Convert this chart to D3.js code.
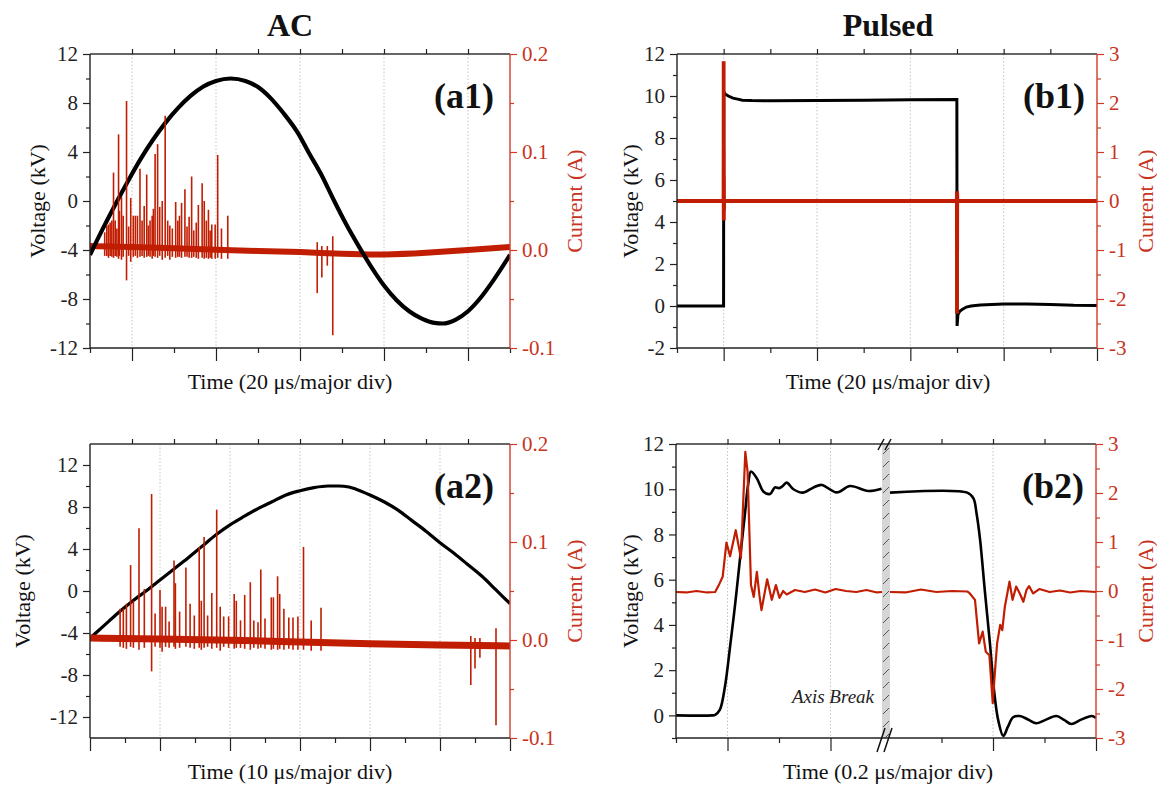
<!DOCTYPE html>
<html><head><meta charset="utf-8">
<script src="https://cdn.jsdelivr.net/npm/d3@7"></script>
<style>
body{margin:0;background:#fff;}
</style></head><body>
<script>
// ---------------- DATA ----------------
// (a1) AC, 20 us/major div
const a1VoltT = [0,3,6,9,12,15,18,21,24,27,30,33.5,37,40,43,46,49.6,52,55,58,61,64,67,70,73,76,79,82,84,87,90,93,96,100];
const a1VoltV = [-4.4,-2.3,-0.3,1.6,3.4,5.0,6.4,7.6,8.6,9.35,9.8,10.0,9.8,9.3,8.4,7.2,5.5,4.0,2.2,0.1,-1.9,-3.7,-5.4,-6.9,-8.1,-9.0,-9.6,-9.95,-10.0,-9.7,-9.0,-7.9,-6.5,-4.4];
const a1BaseT = [0,10,20,30,40,50,60,70,80,90,100];
const a1BaseI = [0.004,0.003,0.002,0.0,-0.001,-0.002,-0.004,-0.005,-0.003,0.0,0.003];
const a1SpikeT = [3.5,4.0,4.4,4.8,5.2,5.6,6.0,6.4,6.8,7.0,7.5,7.9,8.7,9.2,9.7,10.3,10.8,11.3,11.9,12.4,12.9,13.5,13.9,14.3,14.8,15.1,15.5,16.1,16.6,17.2,17.9,18.5,19.0,19.6,20.4,20.9,21.3,21.8,22.6,23.1,23.6,24.2,24.7,25.3,25.8,26.7,27.2,27.7,28.2,28.6,29.0,29.8,30.4,31.3,32.8,54.1,55.2,56.5,57.8];
const a1SpikeHi = [0.018,0.025,0.026,0.028,0.030,0.079,0.030,0.022,0.118,0.040,
  0.054,0.035,0.152,0.024,0.053,0.035,0.035,0.035,0.083,0.030,
  0.045,0.077,0.025,0.030,0.035,0.042,0.098,0.108,0.044,0.050,
  0.137,0.030,0.025,0.022,0.049,0.030,0.035,0.048,0.062,0.024,
  0.034,0.075,0.020,0.028,0.046,0.068,0.050,0.030,0.041,0.020,
  0.026,0.026,0.097,0.022,0.035,0.008,0.004,0.004,0.014];
const a1SpikeLo = [-0.006,-0.006,-0.008,-0.006,-0.007,-0.008,-0.006,-0.007,-0.009,-0.006,
  -0.010,-0.007,-0.031,-0.006,-0.012,-0.007,-0.006,-0.008,-0.007,-0.006,
  -0.008,-0.007,-0.006,-0.007,-0.009,-0.006,-0.007,-0.008,-0.006,-0.010,
  -0.008,-0.006,-0.010,-0.007,-0.008,-0.007,-0.007,-0.008,-0.007,-0.007,
  -0.008,-0.008,-0.007,-0.008,-0.009,-0.008,-0.009,-0.008,-0.009,-0.008,
  -0.009,-0.009,-0.008,-0.009,-0.009,-0.044,-0.028,-0.016,-0.087];

// (a2) AC, 10 us/major div
const a2VoltT = [0,2,4,6,8,10,12,14,16,18,20,22,24,26,28,30,32,34,35.5,37,38,40,42,44,46,48,50,52,54,56,58,60];
const a2VoltV = [-4.5,-3.3,-2.1,-1.0,0.0,1.05,2.1,3.15,4.25,5.35,6.3,7.1,7.85,8.5,9.15,9.55,9.85,10.0,10.0,9.9,9.7,9.15,8.5,7.7,6.7,5.7,4.6,3.6,2.5,1.4,0.1,-1.2];
const a2BaseT = [0,10,20,30,40,50,60];
const a2BaseI = [0.002,0.001,0.0,-0.002,-0.004,-0.005,-0.006];
const a2SpikeT = [4.3,4.76,5.2,5.8,6.2,7.0,7.76,8.8,9.3,10.0,10.3,10.8,11.3,12.0,12.2,12.8,13.7,14.3,14.9,15.6,15.9,16.3,16.8,17.4,18.1,18.6,19.1,19.8,20.6,20.9,21.5,22.1,22.9,23.4,24.0,24.4,25.0,25.9,26.2,26.8,27.1,27.7,28.4,29.0,29.7,30.5,31.6,33.0,54.4,55.0,55.7,58.0];
const a2SpikeHi = [0.032,0.032,0.037,0.0765,0.040,0.114,0.052,0.149,0.027,0.051,
  0.034,0.034,0.019,0.081,0.058,0.029,0.074,0.037,0.025,0.095,
  0.040,0.105,0.025,0.048,0.133,0.034,0.024,0.024,0.047,0.040,
  0.020,0.046,0.059,0.020,0.018,0.072,0.022,0.0435,0.0435,0.065,
  0.047,0.032,0.023,0.023,0.024,0.095,0.020,0.033,0.004,0.002,
  0.002,0.012];
const a2SpikeLo = [-0.007,-0.008,-0.009,-0.007,-0.008,-0.010,-0.008,-0.032,-0.007,-0.008,
  -0.012,-0.007,-0.008,-0.007,-0.009,-0.008,-0.007,-0.008,-0.009,-0.008,
  -0.010,-0.008,-0.007,-0.009,-0.008,-0.011,-0.007,-0.008,-0.009,-0.008,
  -0.008,-0.009,-0.010,-0.008,-0.009,-0.008,-0.009,-0.010,-0.009,-0.010,
  -0.009,-0.010,-0.009,-0.010,-0.010,-0.010,-0.011,-0.011,-0.046,-0.029,
  -0.018,-0.087];

// (b1) Pulsed, 20 us/major div
const b1VoltT = [0,9.98,10.02,10.3,11,12,13,14,16,20,30,40,50,59.97,60.02,60.2,60.6,61.2,62,63,65,70,75,80,85,90];
const b1VoltV = [0,0,10.2,10.1,10.0,9.9,9.85,9.8,9.78,9.77,9.78,9.8,9.82,9.83,-0.95,-0.4,-0.25,-0.15,-0.05,0.0,0.05,0.1,0.1,0.07,0.03,0.02];
const b1CurT = [0,9.97,9.99,10.0,10.01,10.02,10.03,10.05,10.07,10.1,59.96,59.98,60.0,60.01,60.03,60.05,60.08,90];
const b1CurI = [0,0,0.9,2.85,-0.35,1.05,-0.4,0.5,-0.2,0,0,0.2,-2.3,0.2,-1.0,0.15,0,0];

// (b2) Pulsed, 0.2 us/major div, with axis break
const b2VoltLT = [0,0.07,0.076,0.085,0.095,0.105,0.115,0.124,0.134,0.140,0.1456,0.157,0.170,0.1825,0.192,0.200,0.206,0.215,0.228,0.247,0.267,0.283,0.312,0.338,0.373,0.399];
const b2VoltLV = [0,0,0.02,0.24,1.27,3.04,4.95,6.87,8.94,10.2,10.78,10.48,9.89,9.79,10.08,10.05,10.12,10.29,10.0,9.85,10.08,10.19,9.86,10.14,9.92,10.02];
const b2CurLT = [0,0.02,0.04,0.06,0.076,0.084,0.0906,0.098,0.105,0.116,0.126,0.1346,0.139,0.1456,0.151,0.157,0.162,0.166,0.177,0.186,0.194,0.201,0.208,0.215,0.231,0.25,0.27,0.29,0.31,0.33,0.35,0.37,0.39,0.4];
const b2CurLI = [-0.02,-0.03,0.0,-0.03,-0.02,0.14,0.29,0.99,0.71,1.24,0.67,2.84,2.43,0.12,-0.12,0.39,-0.09,-0.39,0.24,-0.18,0.12,-0.14,0.0,-0.07,0.02,-0.02,0.03,-0.03,0.04,0.0,-0.02,0.02,-0.03,-0.02];
const b2VoltRT = [10.0,10.15,10.162,10.168,10.175,10.184,10.194,10.202,10.21,10.22,10.229,10.239,10.252,10.268,10.284,10.30,10.323,10.338,10.352,10.37,10.392,10.4];
const b2VoltRV = [9.85,9.85,9.6,8.94,7.75,5.54,3.19,1.12,-0.2,-0.91,-0.5,-0.08,-0.03,-0.18,-0.35,-0.22,-0.03,-0.2,-0.38,-0.2,-0.03,-0.12];
const b2CurRT = [10.0,10.03,10.06,10.09,10.12,10.15,10.155,10.165,10.173,10.18,10.186,10.193,10.1995,10.204,10.208,10.214,10.218,10.223,10.232,10.238,10.245,10.252,10.259,10.265,10.27,10.278,10.29,10.31,10.33,10.35,10.37,10.4];
const b2CurRI = [-0.02,-0.03,0.03,-0.02,0.0,-0.01,-0.05,-0.18,-1.07,-0.83,-1.24,-1.31,-2.29,-1.61,-1.07,-0.69,-0.8,-0.32,0.19,-0.18,0.09,-0.05,-0.22,0.02,0.1,-0.05,0.04,-0.02,0.01,-0.03,0.0,-0.02];

// tick values / labels
const acVoltMajor = [-12,-8,-4,0,4,8,12];
const acVoltLabels = ["-12","-8","-4","0","4","8","12"];
const acVoltMinor = [-10,-6,-2,2,6,10];
const acCurMajor = [-0.1,0,0.1,0.2];
const acCurLabels = ["-0.1","0.0","0.1","0.2"];
const acCurMinor = [-0.05,0.05,0.15];
const b1VoltMajor = [-2,0,2,4,6,8,10,12];
const b1VoltLabels = ["-2","0","2","4","6","8","10","12"];
const b2VoltMajor = [0,2,4,6,8,10,12];
const b2VoltLabels = ["0","2","4","6","8","10","12"];
const pVoltMinor = [-1,1,3,5,7,9,11];
const pCurMajor = [-3,-2,-1,0,1,2,3];
const pCurLabels = ["-3","-2","-1","0","1","2","3"];
const pCurMinor = [-2.5,-1.5,-0.5,0.5,1.5,2.5];
const a1TimeMajor = [10,30,50,70,90], a1TimeMinor = [0,20,40,60,80,100], a1TimeTop = [10,20,30,40,50,60,70,80,90];
const a2TimeMajor = [0,10,20,30,40,50,60], a2TimeMinor = [5,15,25,35,45,55], a2TimeTop = [6,12,18,24,30,36,42,48,54];
const b1TimeMajor = [10,30,50,70,90], b1TimeMinor = [0,20,40,60,80], b1TimeTop = [10,20,30,40,50,60,70,80];
const b2LTimeMajor = [0.1,0.3], b2LTimeMinor = [0,0.2], b2LTimeTop = [0.1,0.2,0.3];
const b2RTimeMajor = [10.2,10.4], b2RTimeMinor = [10.1,10.3], b2RTimeTop = [10.1,10.2,10.3];

// ---------------- DRAWING ----------------
const FONT = "'Liberation Serif','Times New Roman',serif";
const AXIS_RED = "#cf3b28", TEXT_RED = "#c8331d", TRACE_RED = "#c01d02";
const svg = d3.select("body").append("svg").attr("width",1157).attr("height",788)
  .attr("font-family",FONT);

const defs = svg.append("defs");
const pat = defs.append("pattern").attr("id","hatch").attr("patternUnits","userSpaceOnUse")
  .attr("width",8).attr("height",13).attr("x",882).attr("y",444);
pat.append("rect").attr("width",8).attr("height",13).attr("fill","#d6d6d6");
pat.append("line").attr("x1",1).attr("y1",10).attr("x2",7).attr("y2",4).attr("stroke","#555").attr("stroke-width",1);

let clipN = 0;
function clip(x0,y0,x1,y1){
  const id = "clip"+(clipN++);
  defs.append("clipPath").attr("id",id).append("rect").attr("x",x0).attr("y",y0).attr("width",x1-x0).attr("height",y1-y0);
  return "url(#"+id+")";
}

function styleAxis(sel, color, size){
  sel.attr("font-family",FONT).attr("font-size",size).attr("color",color);
  sel.select(".domain").remove();
  sel.selectAll(".tick line").attr("stroke-width",1.2);
  sel.selectAll(".tick text").attr("fill",color);
}

function yAxes(box, yV, yI, vMaj, vLab, vMin, iMaj, iLab, iMin){
  const gl = svg.append("g").attr("transform",`translate(${box.x0},0)`);
  styleAxis(gl.append("g").call(d3.axisLeft(yV).tickValues(vMin).tickSize(4).tickFormat("")), "#222", 21);
  styleAxis(gl.append("g").call(d3.axisLeft(yV).tickValues(vMaj).tickSize(7).tickPadding(5).tickFormat((d,i)=>vLab[i])), "#222", 21);
  const gr = svg.append("g").attr("transform",`translate(${box.x1},0)`);
  styleAxis(gr.append("g").call(d3.axisRight(yI).tickValues(iMin).tickSize(4).tickFormat("")), AXIS_RED, 21);
  const ra = gr.append("g").call(d3.axisRight(yI).tickValues(iMaj).tickSize(7).tickPadding(5).tickFormat((d,i)=>iLab[i]));
  styleAxis(ra, AXIS_RED, 21);
  ra.selectAll(".tick text").attr("fill",TEXT_RED);
}

function xAxes(box, x, maj, min, top){
  const gb = svg.append("g").attr("transform",`translate(0,${box.y1})`);
  styleAxis(gb.append("g").call(d3.axisBottom(x).tickValues(min).tickSize(5).tickFormat("")), "#222", 12);
  styleAxis(gb.append("g").call(d3.axisBottom(x).tickValues(maj).tickSize(13).tickFormat("")), "#222", 12);
  const gt = svg.append("g").attr("transform",`translate(0,${box.y0})`);
  styleAxis(gt.append("g").call(d3.axisTop(x).tickValues(top).tickSize(5).tickFormat("")), "#222", 12);
}

function grid(box, x, vals){
  svg.append("g").selectAll("line").data(vals.filter(v=>x(v)>box.x0+1 && x(v)<box.x1-1)).join("line")
    .attr("x1",d=>x(d)).attr("x2",d=>x(d)).attr("y1",box.y0).attr("y2",box.y1)
    .attr("stroke","#c4c4c4").attr("stroke-width",1).attr("stroke-dasharray","1.5,2");
}

function frame(box){
  const g = svg.append("g").attr("fill","none");
  g.append("line").attr("x1",box.x0).attr("x2",box.x1).attr("y1",box.y0).attr("y2",box.y0).attr("stroke","#333").attr("stroke-width",1.4);
  g.append("line").attr("x1",box.x0).attr("x2",box.x1).attr("y1",box.y1).attr("y2",box.y1).attr("stroke","#222").attr("stroke-width",1.4);
  g.append("line").attr("x1",box.x0).attr("x2",box.x0).attr("y1",box.y0).attr("y2",box.y1).attr("stroke","#222").attr("stroke-width",1.4);
  g.append("line").attr("x1",box.x1).attr("x2",box.x1).attr("y1",box.y0).attr("y2",box.y1).attr("stroke",AXIS_RED).attr("stroke-width",1.4);
}

function labels(box, cxTitle, xTitle, vx, cx, tag, tagDx){
  svg.append("text").attr("x",cxTitle).attr("y",box.y1+41).attr("text-anchor","middle").attr("font-size",22).attr("fill","#111").text(xTitle);
  svg.append("text").attr("transform",`translate(${vx},${(box.y0+box.y1)/2}) rotate(-90)`).attr("text-anchor","middle").attr("dy","0.35em")
    .attr("font-size",22).attr("fill","#111").text("Voltage (kV)");
  svg.append("text").attr("transform",`translate(${cx},${(box.y0+box.y1)/2}) rotate(-90)`).attr("text-anchor","middle").attr("dy","0.35em")
    .attr("font-size",22).attr("fill",TEXT_RED).text("Current (A)");
  svg.append("text").attr("x",box.x1-tagDx).attr("y",box.y0+54).attr("text-anchor","end").attr("font-size",36).attr("font-weight","bold").attr("fill","#111").text(tag);
}

const zipP = (a,b)=>a.map((v,i)=>[v,b[i]]);

// ===== (a1) =====
{
  const box = {x0:90,x1:510,y0:54,y1:348};
  const x = d3.scaleLinear().domain([0,100]).range([box.x0,box.x1]);
  const yV = d3.scaleLinear().domain([-12,12]).range([box.y1,box.y0]);
  const yI = d3.scaleLinear().domain([-0.1,0.2]).range([box.y1,box.y0]);
  grid(box, x, a1TimeMajor);
  const g = svg.append("g").attr("clip-path",clip(box.x0,box.y0,box.x1,box.y1));
  g.append("path").datum(zipP(a1BaseT,a1BaseI)).attr("d",d3.line().x(d=>x(d[0])).y(d=>yI(d[1])).curve(d3.curveBasis))
    .attr("fill","none").attr("stroke",TRACE_RED).attr("stroke-width",6);
  g.append("path").datum(zipP(a1VoltT,a1VoltV)).attr("d",d3.line().x(d=>x(d[0])).y(d=>yV(d[1])).curve(d3.curveMonotoneX))
    .attr("fill","none").attr("stroke","#000").attr("stroke-width",4.2);
  g.append("g").selectAll("line").data(a1SpikeT).join("line")
    .attr("x1",d=>x(d)).attr("x2",d=>x(d)).attr("y1",(d,i)=>yI(a1SpikeLo[i])).attr("y2",(d,i)=>yI(a1SpikeHi[i]))
    .attr("stroke",TRACE_RED).attr("stroke-width",1.6);
  frame(box);
  xAxes(box, x, a1TimeMajor, a1TimeMinor, a1TimeTop);
  yAxes(box, yV, yI, acVoltMajor, acVoltLabels, acVoltMinor, acCurMajor, acCurLabels, acCurMinor);
  labels(box, 290, "Time (20 μs/major div)", 37, 574, "(a1)", 16);
}

// ===== (a2) =====
{
  const box = {x0:90,x1:510,y0:444,y1:738};
  const x = d3.scaleLinear().domain([0,60]).range([box.x0,box.x1]);
  const yV = d3.scaleLinear().domain([-14,14]).range([box.y1,box.y0]);
  const yI = d3.scaleLinear().domain([-0.1,0.2]).range([box.y1,box.y0]);
  grid(box, x, a2TimeMajor);
  const g = svg.append("g").attr("clip-path",clip(box.x0,box.y0,box.x1,box.y1));
  g.append("path").datum(zipP(a2VoltT,a2VoltV)).attr("d",d3.line().x(d=>x(d[0])).y(d=>yV(d[1])).curve(d3.curveMonotoneX))
    .attr("fill","none").attr("stroke","#000").attr("stroke-width",3.2);
  g.append("path").datum(zipP(a2BaseT,a2BaseI)).attr("d",d3.line().x(d=>x(d[0])).y(d=>yI(d[1])).curve(d3.curveBasis))
    .attr("fill","none").attr("stroke",TRACE_RED).attr("stroke-width",7);
  g.append("g").selectAll("line").data(a2SpikeT).join("line")
    .attr("x1",d=>x(d)).attr("x2",d=>x(d)).attr("y1",(d,i)=>yI(a2SpikeLo[i])).attr("y2",(d,i)=>yI(a2SpikeHi[i]))
    .attr("stroke",TRACE_RED).attr("stroke-width",1.6);
  frame(box);
  xAxes(box, x, a2TimeMajor, a2TimeMinor, a2TimeTop);
  yAxes(box, yV, yI, acVoltMajor, acVoltLabels, acVoltMinor, acCurMajor, acCurLabels, acCurMinor);
  labels(box, 290, "Time (10 μs/major div)", 22, 574, "(a2)", 16);
}

// ===== (b1) =====
{
  const box = {x0:677,x1:1097,y0:54,y1:348};
  const x = d3.scaleLinear().domain([0,90]).range([box.x0,box.x1]);
  const yV = d3.scaleLinear().domain([-2,12]).range([box.y1,box.y0]);
  const yI = d3.scaleLinear().domain([-3,3]).range([box.y1,box.y0]);
  grid(box, x, b1TimeMajor);
  const g = svg.append("g").attr("clip-path",clip(box.x0,box.y0,box.x1,box.y1));
  g.append("path").datum(zipP(b1VoltT,b1VoltV)).attr("d",d3.line().x(d=>x(d[0])).y(d=>yV(d[1])))
    .attr("fill","none").attr("stroke","#000").attr("stroke-width",3);
  g.append("path").datum(zipP(b1CurT,b1CurI)).attr("d",d3.line().x(d=>x(d[0])).y(d=>yI(d[1])))
    .attr("fill","none").attr("stroke",TRACE_RED).attr("stroke-width",3.8).attr("stroke-linejoin","bevel");
  frame(box);
  xAxes(box, x, b1TimeMajor, b1TimeMinor, b1TimeTop);
  yAxes(box, yV, yI, b1VoltMajor, b1VoltLabels, pVoltMinor, pCurMajor, pCurLabels, pCurMinor);
  labels(box, 888, "Time (20 μs/major div)", 630, 1145, "(b1)", 12);
}

// ===== (b2) =====
{
  const box = {x0:676,x1:1096,y0:444,y1:738};
  const bk0 = 882, bk1 = 890;
  const xL = d3.scaleLinear().domain([0,0.4]).range([box.x0,bk0]);
  const xR = d3.scaleLinear().domain([10.0,10.4]).range([bk1,box.x1]);
  const yV = d3.scaleLinear().domain([-1,12]).range([box.y1,box.y0]);
  const yI = d3.scaleLinear().domain([-3,3]).range([box.y1,box.y0]);
  grid(box, xL, b2LTimeMajor);
  grid(box, xR, b2RTimeMajor);
  const gL = svg.append("g").attr("clip-path",clip(box.x0,box.y0,bk0,box.y1));
  const gR = svg.append("g").attr("clip-path",clip(bk1,box.y0,box.x1,box.y1));
  const lineV = (x)=>d3.line().x(d=>x(d[0])).y(d=>yV(d[1])).curve(d3.curveCatmullRom.alpha(0.5));
  const lineI = (x)=>d3.line().x(d=>x(d[0])).y(d=>yI(d[1]));
  gL.append("path").datum(zipP(b2VoltLT,b2VoltLV)).attr("d",lineV(xL)).attr("fill","none").attr("stroke","#000").attr("stroke-width",2.6);
  gR.append("path").datum(zipP(b2VoltRT,b2VoltRV)).attr("d",lineV(xR)).attr("fill","none").attr("stroke","#000").attr("stroke-width",2.6);
  gL.append("path").datum(zipP(b2CurLT,b2CurLI)).attr("d",lineI(xL)).attr("fill","none").attr("stroke",TRACE_RED).attr("stroke-width",2.2).attr("stroke-linejoin","round");
  gR.append("path").datum(zipP(b2CurRT,b2CurRI)).attr("d",lineI(xR)).attr("fill","none").attr("stroke",TRACE_RED).attr("stroke-width",2.2).attr("stroke-linejoin","round");
  // axis break band
  svg.append("rect").attr("x",bk0).attr("y",box.y0).attr("width",bk1-bk0).attr("height",box.y1-box.y0).attr("fill","url(#hatch)");
  frame(box);
  xAxes(box, xL, b2LTimeMajor, b2LTimeMinor, b2LTimeTop);
  xAxes(box, xR, b2RTimeMajor, b2RTimeMinor, b2RTimeTop);
  // break marks
  const bm = svg.append("g").attr("stroke","#111").attr("stroke-width",1.5);
  bm.append("line").attr("x1",878).attr("y1",box.y0+6).attr("x2",884).attr("y2",box.y0-5);
  bm.append("line").attr("x1",885).attr("y1",box.y0+6).attr("x2",891).attr("y2",box.y0-5);
  bm.append("line").attr("x1",877).attr("y1",box.y1+14).attr("x2",885).attr("y2",box.y1-10);
  bm.append("line").attr("x1",884).attr("y1",box.y1+14).attr("x2",892).attr("y2",box.y1-10);
  yAxes(box, yV, yI, b2VoltMajor, b2VoltLabels, pVoltMinor, pCurMajor, pCurLabels, pCurMinor);
  labels(box, 888, "Time (0.2 μs/major div)", 630, 1145, "(b2)", 12);
  svg.append("text").attr("x",bk0-8).attr("y",703).attr("text-anchor","end").attr("font-size",19).attr("font-style","italic").attr("fill","#222").text("Axis Break");
}

// column titles
svg.append("text").attr("x",290).attr("y",36).attr("text-anchor","middle").attr("font-size",32).attr("font-weight","bold").attr("fill","#111").text("AC");
svg.append("text").attr("x",888).attr("y",36).attr("text-anchor","middle").attr("font-size",32).attr("font-weight","bold").attr("fill","#111").text("Pulsed");
</script>
</body></html>
